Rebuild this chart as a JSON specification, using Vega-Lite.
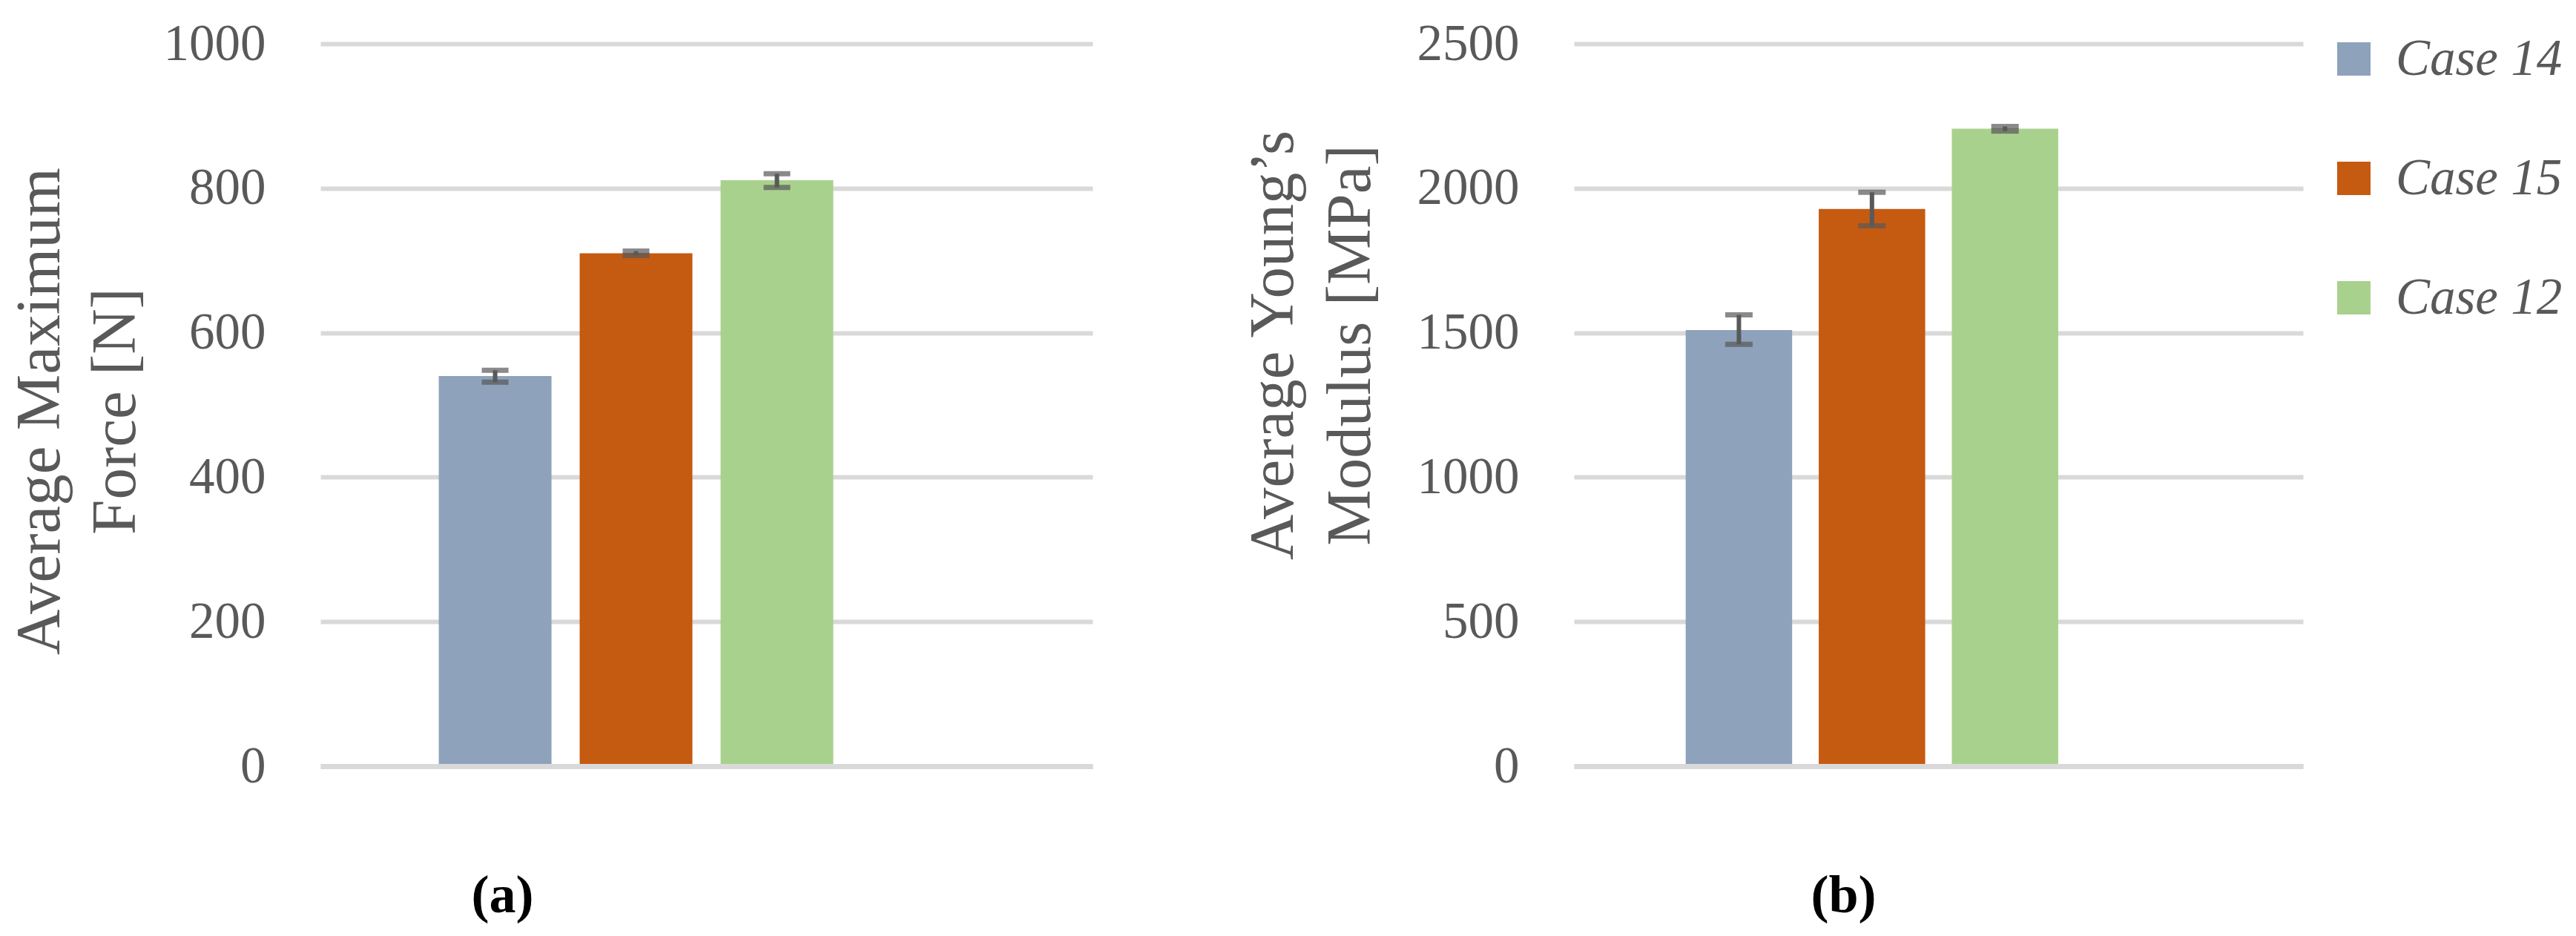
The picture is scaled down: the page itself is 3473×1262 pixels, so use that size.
{
  "$schema": "https://vega.github.io/schema/vega-lite/v6.json",
  "padding": {"left": 11, "top": 25, "right": 5, "bottom": 5},
  "background": "white",
  "datasets": {
    "force": [
      {"case": "Case 14", "value": 540, "lo": 531.5, "hi": 548},
      {"case": "Case 15", "value": 710, "lo": 707, "hi": 713},
      {"case": "Case 12", "value": 811, "lo": 801, "hi": 820}
    ],
    "modulus": [
      {"case": "Case 14", "value": 1509, "lo": 1460, "hi": 1562},
      {"case": "Case 15", "value": 1928, "lo": 1870, "hi": 1986},
      {"case": "Case 12", "value": 2206, "lo": 2198, "hi": 2214}
    ]
  },
  "bounds": "flush",
  "spacing": 649,
  "hconcat": [
    {
      "width": 1041,
      "height": 974,
      "data": {"name": "force"},
      "encoding": {
        "x": {
          "field": "case", "type": "nominal",
          "scale": {"type": "band", "domain": ["Case 14", "Case 15", "Case 12", " "], "paddingInner": 0.2, "paddingOuter": 0.84, "align": 0.5},
          "axis": {
            "title": "(a)", "labels": false, "ticks": false,
            "domain": true, "domainColor": "#D9D9D9", "domainWidth": 7, "zindex": 1,
            "titleFontSize": 72, "titleFontWeight": "bold", "titleColor": "#000000",
            "titleX": 245, "titleY": 139, "titleBaseline": "top", "titleAlign": "center"
          }
        }
      },
      "layer": [
        {
          "mark": {"type": "bar"},
          "encoding": {
            "y": {
              "field": "value", "type": "quantitative",
              "scale": {"domain": [0, 1000], "nice": false},
              "axis": {
                "values": [0, 200, 400, 600, 800, 1000], "format": "d",
                "title": ["Average Maximum", "Force [N]"],
                "titleX": -335, "titleY": 495, "titleAngle": 270,
                "titleBaseline": "bottom", "titleAlign": "center",
                "titleLineHeight": 102
              }
            },
            "color": {
              "field": "case", "type": "nominal",
              "scale": {"domain": ["Case 14", "Case 15", "Case 12"], "range": ["#8EA2BB", "#C55A11", "#A9D18E"]},
              "legend": {
                "orient": "none", "legendX": 2707, "legendY": -14, "title": null,
                "symbolType": "square", "symbolSize": 2025, "symbolStrokeWidth": 0,
                "labelFontSize": 69, "labelFontStyle": "italic", "labelColor": "#595959",
                "labelOffset": 22, "labelLimit": 600, "rowPadding": 91, "padding": 0
              }
            }
          }
        },
        {
          "mark": {
            "type": "errorbar", "color": "#595959",
            "ticks": {"size": 36, "thickness": 7, "color": "#595959"},
            "rule": {"strokeWidth": 6, "color": "#595959"}
          },
          "encoding": {
            "y": {"field": "lo", "type": "quantitative", "scale": {"domain": [0, 1000], "nice": false}, "title": ["Average Maximum", "Force [N]"]},
            "y2": {"field": "hi"}
          }
        }
      ]
    },
    {
      "width": 983,
      "height": 974,
      "data": {"name": "modulus"},
      "encoding": {
        "x": {
          "field": "case", "type": "nominal",
          "scale": {"type": "band", "domain": ["Case 14", "Case 15", "Case 12", " "], "paddingInner": 0.2, "paddingOuter": 0.84, "align": 0.5},
          "axis": {
            "title": "(b)", "labels": false, "ticks": false,
            "domain": true, "domainColor": "#D9D9D9", "domainWidth": 7, "zindex": 1,
            "titleFontSize": 72, "titleFontWeight": "bold", "titleColor": "#000000",
            "titleX": 363, "titleY": 139, "titleBaseline": "top", "titleAlign": "center"
          }
        }
      },
      "layer": [
        {
          "mark": {"type": "bar"},
          "encoding": {
            "y": {
              "field": "value", "type": "quantitative",
              "scale": {"domain": [0, 2500], "nice": false},
              "axis": {
                "values": [0, 500, 1000, 1500, 2000, 2500], "format": "d",
                "title": ["Average Young’s", "Modulus [MPa]"],
                "titleX": -362, "titleY": 406, "titleAngle": 270,
                "titleBaseline": "bottom", "titleAlign": "center",
                "titleLineHeight": 104
              }
            },
            "color": {
              "field": "case", "type": "nominal",
              "scale": {"domain": ["Case 14", "Case 15", "Case 12"], "range": ["#8EA2BB", "#C55A11", "#A9D18E"]}
            }
          }
        },
        {
          "mark": {
            "type": "errorbar", "color": "#595959",
            "ticks": {"size": 37, "thickness": 7, "color": "#595959"},
            "rule": {"strokeWidth": 6, "color": "#595959"}
          },
          "encoding": {
            "y": {"field": "lo", "type": "quantitative", "scale": {"domain": [0, 2500], "nice": false}, "title": ["Average Young’s", "Modulus [MPa]"]},
            "y2": {"field": "hi"}
          }
        }
      ]
    }
  ],
  "config": {
    "view": {"stroke": null},
    "font": "Liberation Serif",
    "axisY": {
      "grid": true, "gridColor": "#D9D9D9", "gridWidth": 6,
      "domain": false, "ticks": false, "tickSize": 0,
      "labelPadding": 74, "labelFontSize": 69, "labelColor": "#595959",
      "labelFont": "Liberation Serif",
      "titleFont": "Liberation Serif", "titleFontSize": 85, "titleFontWeight": "normal", "titleColor": "#595959"
    },
    "axisX": {"grid": false, "titleFont": "Liberation Serif"},
    "legend": {"labelFont": "Liberation Serif"}
  }
}
